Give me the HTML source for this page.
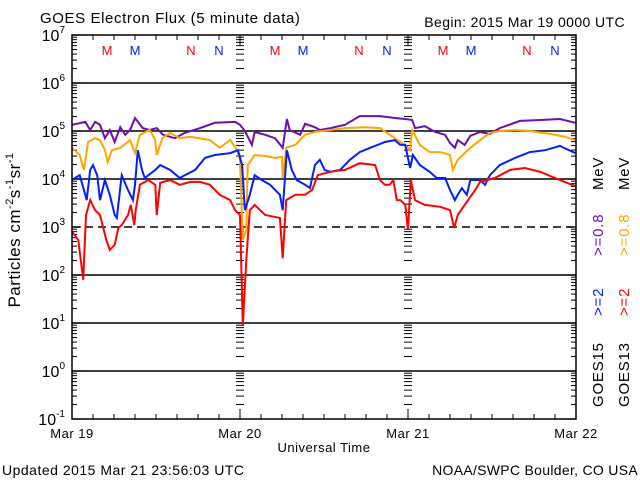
<!DOCTYPE html>
<html><head><meta charset="utf-8"><style>
html,body{margin:0;padding:0;background:#fff;}
svg{display:block;font-family:"Liberation Sans",sans-serif;}
</style></head><body>
<svg id="chart" width="640" height="480" viewBox="0 0 640 480" xmlns="http://www.w3.org/2000/svg">
<rect x="0" y="0" width="640" height="480" fill="#fff"/>
<text x="40" y="23" font-size="15" fill="#000" letter-spacing="0.6">GOES Electron Flux (5 minute data)</text>
<text x="625" y="27" font-size="14" fill="#000" text-anchor="end" letter-spacing="0.4">Begin: 2015 Mar 19 0000 UTC</text>
<g id="grid"></g>
<g id="axes"></g>
<g id="series"></g>
<rect x="72" y="35" width="504" height="384" fill="none" stroke="#000" stroke-width="1.5"/>
<text transform="translate(20,230) rotate(-90)" font-size="17" text-anchor="middle" letter-spacing="0.5">Particles cm<tspan font-size="11" dy="-7">-2</tspan><tspan dy="7">s</tspan><tspan font-size="11" dy="-7">-1</tspan><tspan dy="7">sr</tspan><tspan font-size="11" dy="-7">-1</tspan></text>
<text x="324" y="452" font-size="13" text-anchor="middle" letter-spacing="0.5">Universal Time</text>
<text x="2" y="475" font-size="14" letter-spacing="0.5">Updated 2015 Mar 21 23:56:03 UTC</text>
<text x="638" y="475" font-size="14" text-anchor="end" letter-spacing="0.3">NOAA/SWPC Boulder, CO USA</text>
<g font-size="15" letter-spacing="0.8">
<text transform="translate(603,407) rotate(-90)" fill="#000">GOES15</text>
<text transform="translate(603,316) rotate(-90)" fill="#0020ff">&gt;=2</text>
<text transform="translate(603,256) rotate(-90)" fill="#6a0fb0">&gt;=0.8</text>
<text transform="translate(603,190) rotate(-90)" fill="#000">MeV</text>
<text transform="translate(629,407) rotate(-90)" fill="#000">GOES13</text>
<text transform="translate(629,316) rotate(-90)" fill="#ff0000">&gt;=2</text>
<text transform="translate(629,256) rotate(-90)" fill="#ffa500">&gt;=0.8</text>
<text transform="translate(629,190) rotate(-90)" fill="#000">MeV</text>
</g>
</svg>
<script>
const dayLabels = ["Mar 19","Mar 20","Mar 21","Mar 22"];
const decadeExps = [7,6,5,4,3,2,1,0,-1];
const markerLabels = ["M","M","N","N"];
const markerHours = [5,9,17,21];
const markerColors = ["#ff0000","#0020ff","#ff0000","#0020ff"];

const purpleT = [0,1.9,2.6,3.3,4.0,4.7,5.4,6.1,6.9,7.6,8.3,9.0,10.1,11.1,12.1,13.0,14.7,16.1,18.3,20.4,23.3,24.0,24.7,25.7,26.1,27.6,29.0,30.1,30.7,31.1,32.6,33.3,34.7,35.4,36.9,39.0,41.1,44.0,46.1,47.6,48.6,49.0,50.4,51.9,53.3,54.0,54.7,55.1,56.1,56.9,58.3,59.7,61.1,64.0,66.9,69.7,71.9];
const purpleV = [5.13,5.19,5.02,5.19,5.13,4.85,5.02,4.77,5.08,4.92,5.02,5.27,5.06,5.02,5.06,4.92,4.85,4.96,5.06,5.17,5.19,5.13,5.0,4.71,4.98,4.92,4.85,4.65,5.25,5.02,4.92,5.15,5.08,5.02,5.06,5.13,5.31,5.31,5.27,5.25,5.23,5.06,5.10,4.98,4.92,4.75,4.65,4.81,4.71,4.90,4.98,4.94,5.06,5.21,5.23,5.25,5.17];
const orangeT = [0,1.1,1.7,2.3,3.3,4.0,4.7,5.1,5.7,6.9,8.3,9.0,9.7,11.1,11.9,12.1,12.9,14.0,15.4,16.9,19.7,21.1,22.6,23.6,24.0,24.4,24.9,25.1,26.1,27.6,29.0,30.0,30.1,30.6,31.9,33.3,34.7,36.9,39.0,41.9,44.0,45.4,46.9,47.6,48.3,48.6,49.7,51.1,52.6,54.0,54.4,55.1,56.9,58.3,59.7,61.1,63.3,65.4,68.3,70.4,71.9];
const orangeV = [4.65,4.5,4.19,4.77,4.85,4.81,4.60,4.35,4.60,4.65,4.81,4.54,4.92,5.02,4.81,4.5,4.85,4.96,4.85,4.88,4.81,4.65,4.81,4.60,4.40,2.73,2.94,4.29,4.5,4.48,4.44,4.46,4.02,4.65,4.71,4.92,4.98,5.02,5.06,5.08,5.06,4.92,4.77,4.71,4.60,5.02,4.71,4.56,4.56,4.5,4.19,4.40,4.65,4.81,4.96,5.0,5.02,5.0,4.94,4.88,4.81];
const blueT = [0,1.1,1.9,2.1,2.6,3.0,3.6,4.0,4.7,5.4,6.1,6.4,7.1,8.0,8.7,9.0,9.4,10.0,10.4,11.9,12.6,14.0,15.4,16.1,17.6,19.0,20.4,22.6,23.7,24.3,24.7,25.4,26.1,27.1,28.3,29.7,30.1,30.7,31.4,32.1,33.3,34.0,34.7,35.4,36.1,36.9,38.3,39.7,41.1,42.6,44.7,46.1,46.9,47.6,48.3,48.7,49.7,51.1,52.1,53.3,54.0,54.7,55.1,55.7,56.4,56.9,58.3,59.0,59.7,61.1,63.3,65.4,67.6,69.7,71.9];
const blueV = [3.98,4.08,3.67,3.56,4.19,4.29,4.08,3.56,3.98,3.67,3.25,3.19,4.08,3.77,3.56,3.88,4.60,4.19,4.02,4.19,4.29,4.19,4.02,4.08,4.19,4.44,4.5,4.54,4.60,4.29,3.35,3.67,4.08,3.98,3.88,3.67,3.35,4.60,4.19,3.98,3.88,3.81,4.29,4.40,4.19,4.15,4.19,4.40,4.56,4.65,4.77,4.81,4.71,4.71,4.23,4.5,4.29,4.15,4.02,4.02,3.77,3.56,3.67,3.81,3.67,3.98,3.98,3.88,4.08,4.29,4.44,4.56,4.60,4.69,4.54];
const redT = [0,0.9,1.6,2.0,2.6,3.3,4.0,4.9,5.4,6.1,6.6,7.1,8.0,8.4,8.9,9.1,9.7,10.9,11.9,12.1,12.6,14.0,15.4,16.9,18.3,19.7,21.1,22.6,23.3,24.0,24.4,24.9,25.4,26.1,27.6,29.7,30.1,30.6,31.9,33.3,34.3,35.1,36.9,39.0,41.1,43.3,44.0,44.7,45.4,45.9,46.4,46.9,47.6,48.0,48.4,49.0,50.4,52.6,54.0,54.6,55.1,56.1,57.6,58.3,60.4,62.6,64.7,66.9,69.0,70.4,71.9];
const redV = [2.90,2.73,1.9,3.25,3.56,3.35,3.25,2.73,2.52,2.63,2.98,3.04,3.25,3.46,3.04,3.35,3.88,3.98,3.88,3.25,3.92,3.98,3.88,3.94,3.94,3.88,3.67,3.56,3.35,3.25,0.96,2.31,3.35,3.46,3.25,3.19,2.35,3.56,3.67,3.67,3.77,4.08,4.15,4.19,4.33,4.29,3.98,3.88,3.88,3.98,3.56,3.56,3.46,2.94,3.98,3.56,3.46,3.42,3.35,2.98,3.25,3.46,3.77,3.94,4.02,4.19,4.23,4.15,4.02,3.94,3.85];

const X0=72, X1=576, Y0=35, Y1=419;
const NS="http://www.w3.org/2000/svg";
function xs(h){return X0+(X1-X0)*h/72;}
function ys(v){return Y0+(Y1-Y0)*(7-v)/8;}
function mk(tag,attrs,parent){const e=document.createElementNS(NS,tag);for(const k in attrs)e.setAttribute(k,attrs[k]);parent.appendChild(e);return e;}

const grid=document.getElementById('grid');
const axes=document.getElementById('axes');
const series=document.getElementById('series');

decadeExps.forEach(function(d){
  const y=ys(d);
  if(d<7&&d>-1){
    const l=mk('line',{x1:X0,x2:X1,y1:y,y2:y,stroke:'#000','stroke-width':1.5},grid);
    
    
    if(d===3) l.setAttribute('stroke-dasharray','8,5');
  }
  const t=mk('text',{x:65,y:y+6,'font-size':16,'text-anchor':'end'},axes);
  
  
  t.textContent='10';
  const s=mk('tspan',{'font-size':10,dy:-8},t);
  s.textContent=String(d);
  // minor ticks
  if(d>-1){
    for(let m=2;m<=9;m++){
      const yy=ys(d-1+Math.log10(m));
      [[X0,X0+5],[X1-5,X1],[xs(24)-4,xs(24)+4],[xs(48)-4,xs(48)+4]].forEach(function(p){
        const tk=mk('line',{x1:p[0],x2:p[1],y1:yy,y2:yy,stroke:'#000','stroke-width':1},axes);
        
        
      });
    }
  }
  [[X0,X0+9],[X1-9,X1]].forEach(function(p){
    const tk=mk('line',{x1:p[0],x2:p[1],y1:y,y2:y,stroke:'#000','stroke-width':1.2},axes);
    
    
  });
});

for(let h=0;h<=72;h+=3){
  const x=xs(h); const len=(h%24===0)?10:5;
  const tb=mk('line',{x1:x,x2:x,y1:Y1,y2:Y1-len,stroke:'#000','stroke-width':1},axes);
  
  
  const tt=mk('line',{x1:x,x2:x,y1:Y0,y2:Y0+len,stroke:'#000','stroke-width':1},axes);
  
  
}
dayLabels.forEach(function(lab,i){
  const t=mk('text',{x:xs(i*24),y:438,'font-size':13,'text-anchor':'middle','letter-spacing':0.5},axes);
  
  
  t.textContent=lab;
});
for(let day=0;day<3;day++){
  markerLabels.forEach(function(lab,i){
    const t=mk('text',{x:xs(day*24+markerHours[i]),y:55,'font-size':13,'text-anchor':'middle',fill:markerColors[i]},axes);
    
    
    t.textContent=lab;
  });
}

function drawSeries(T,V,color,name){
  const pts=T.map(function(t,i){return xs(t).toFixed(1)+','+ys(V[i]).toFixed(1);}).join(' ');
  const p=mk('polyline',{points:pts,fill:'none',stroke:color,'stroke-width':2,'stroke-linejoin':'miter'},series);
  
  
}
drawSeries(purpleT,purpleV,'#6a0fb0','series-goes15-ge08');
drawSeries(orangeT,orangeV,'#ffa500','series-goes13-ge08');
drawSeries(blueT,blueV,'#0020ff','series-goes15-ge2');
drawSeries(redT,redV,'#ff0000','series-goes13-ge2');
</script>
</body></html>
